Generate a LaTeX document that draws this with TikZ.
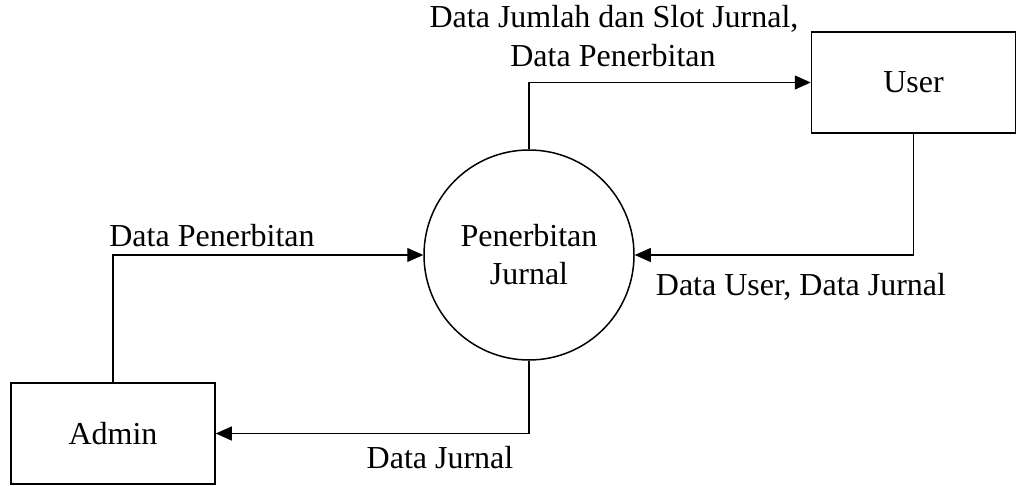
\documentclass[tikz,border=0pt]{standalone}
\usepackage{fontspec}
\setmainfont{Liberation Serif}
\usetikzlibrary{arrows.meta}
\begin{document}
\begin{tikzpicture}[x=1pt,y=-1pt,
  every node/.style={font=\fontsize{32}{38}\selectfont},
  entity/.style={draw,line width=1.5pt,minimum width=204pt,minimum height=101pt,inner sep=0pt},
  process/.style={draw,circle,line width=1.5pt,minimum size=210pt,inner sep=0pt,align=center},
  flow/.style={draw,line width=1.1pt,-{Triangle[length=16pt,width=14pt]}},
  lbl/.style={anchor=base,inner sep=0pt,align=center}]
  \useasboundingbox (0,0) rectangle (1016,486);

  % external entities and the process
  \node[entity] (user) at (913.5,82.5) {User};
  \node[entity] (admin) at (113,433.5) {Admin};
  \node[process] (proc) at (529,255) {Penerbitan\\Jurnal};

  % data flows
  \draw[flow] (proc.north) |- (user.west);
  \draw[flow] (user.south) |- (proc.east);
  \draw[flow] (admin.north) |- (proc.west);
  \draw[flow] (proc.south) |- (admin.east);

  % flow labels
  \node[lbl] (l1) at (614,28) {Data Jumlah dan Slot Jurnal,};
  \node[lbl] (l2) at (613,67) {Data Penerbitan};
  \node[lbl] (l3) at (212,246) {Data Penerbitan};
  \node[lbl] (l4) at (801,295) {Data User, Data Jurnal};
  \node[lbl] (l5) at (440,468) {Data Jurnal};
\end{tikzpicture}
\end{document}
